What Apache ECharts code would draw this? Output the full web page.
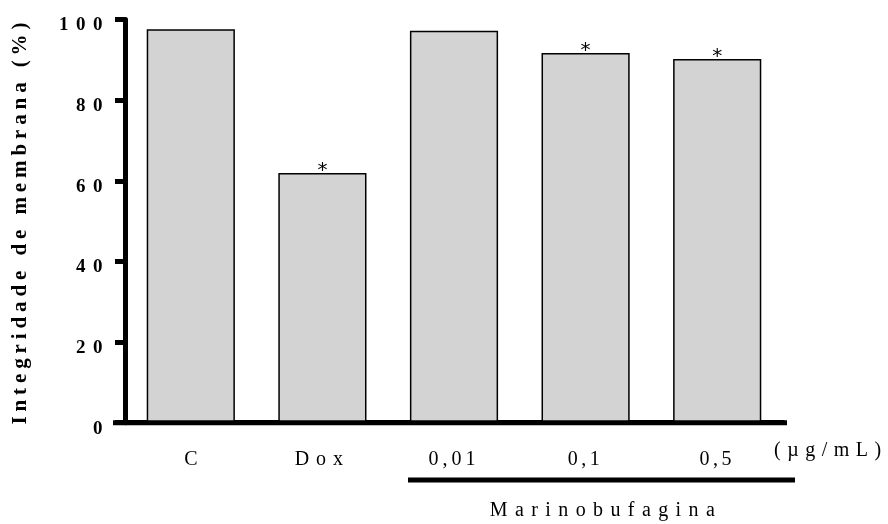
<!DOCTYPE html>
<html><head><meta charset="utf-8">
<script src="https://cdn.jsdelivr.net/npm/echarts@6/dist/echarts.min.js"></script>
<style>html,body{margin:0;padding:0;background:#fff}#c{width:888px;height:524px}</style>
</head><body><div id="c"></div>
<script>
const categories = ['C', 'Dox', '0,01', '0,1', '0,5'];
const values = [97.6, 61.9, 97.2, 91.7, 90.2];
const significance = ['', '*', '', '*', '*'];
const yTicks = [0, 20, 40, 60, 80, 100];
const yTitle = 'Integridade de membrana (%)';
const unitLabel = '(µg/mL)';
const groupLabel = 'Marinobufagina';

// letter spacing like the reference typesetting (applied per text while drawing)
const spacing = { 'Dox': 7, '0,01': 4, '0,1': 3.5, '0,5': 3.5 };
spacing[yTitle] = 4.9; spacing[unitLabel] = 6.5; spacing[groupLabel] = 7.4;
yTicks.forEach(t => spacing[String(t)] = 7.5);
(function () {
  const P = CanvasRenderingContext2D.prototype;
  const origFill = P.fillText;
  P.fillText = function (t, x, y, mw) {
    if ('letterSpacing' in this) this.letterSpacing = (spacing[String(t)] || 0) + 'px';
    return mw === undefined ? origFill.call(this, t, x, y) : origFill.call(this, t, x, y, mw);
  };
})();

const serif = 'Liberation Serif';
const chart = echarts.init(document.getElementById('c'));
chart.setOption({
  animation: false,
  grid: { left: 125, right: 105, top: 19.5, bottom: 101.3, containLabel: false, outerBoundsMode: 'none' },
  xAxis: {
    type: 'category', data: categories,
    axisLine: { lineStyle: { color: '#000', width: 5 } },
    axisTick: { alignWithLabel: true, length: 8, lineStyle: { color: '#000', width: 4 } },
    axisLabel: { color: '#000', fontFamily: serif, fontSize: 20, margin: 27 }
  },
  yAxis: {
    type: 'value', min: yTicks[0], max: yTicks[yTicks.length - 1], interval: 20,
    name: yTitle, nameLocation: 'middle', nameGap: 94, nameRotate: 90,
    nameTextStyle: { color: '#000', fontFamily: serif, fontWeight: 'bold', fontSize: 21 },
    axisLine: { show: true, lineStyle: { color: '#000', width: 5 } },
    axisTick: { show: true, length: 10, lineStyle: { color: '#000', width: 5 } },
    axisLabel: { color: '#000', fontFamily: serif, fontWeight: 'bold', fontSize: 19, margin: 15,
      verticalAlign: 'top', lineHeight: 12 },
    splitLine: { show: false }
  },
  series: [{
    type: 'bar', barWidth: '67%',
    data: values.map((v, i) => ({
      value: v,
      label: { show: significance[i] !== '', formatter: significance[i], position: 'top', distance: -8,
        color: '#000', fontSize: 20, fontFamily: 'DejaVu Sans' }
    })),
    itemStyle: { color: '#d3d3d3', borderColor: '#000', borderWidth: 1.5 }
  }],
  graphic: [
    { type: 'line', shape: { x1: 113, y1: 422.7, x2: 787, y2: 422.7 }, style: { stroke: '#000', lineWidth: 5 }, z: 10 },
    { type: 'line', shape: { x1: 408, y1: 480, x2: 795, y2: 480 }, style: { stroke: '#000', lineWidth: 5 } },
    { type: 'text', x: 774, y: 451, style: { text: unitLabel, fill: '#000', font: '20px "Liberation Serif"', textAlign: 'left', textVerticalAlign: 'middle' } },
    { type: 'text', x: 606, y: 511, style: { text: groupLabel, fill: '#000', font: '20px "Liberation Serif"', textAlign: 'center', textVerticalAlign: 'middle' } }
  ]
});
</script></body></html>
